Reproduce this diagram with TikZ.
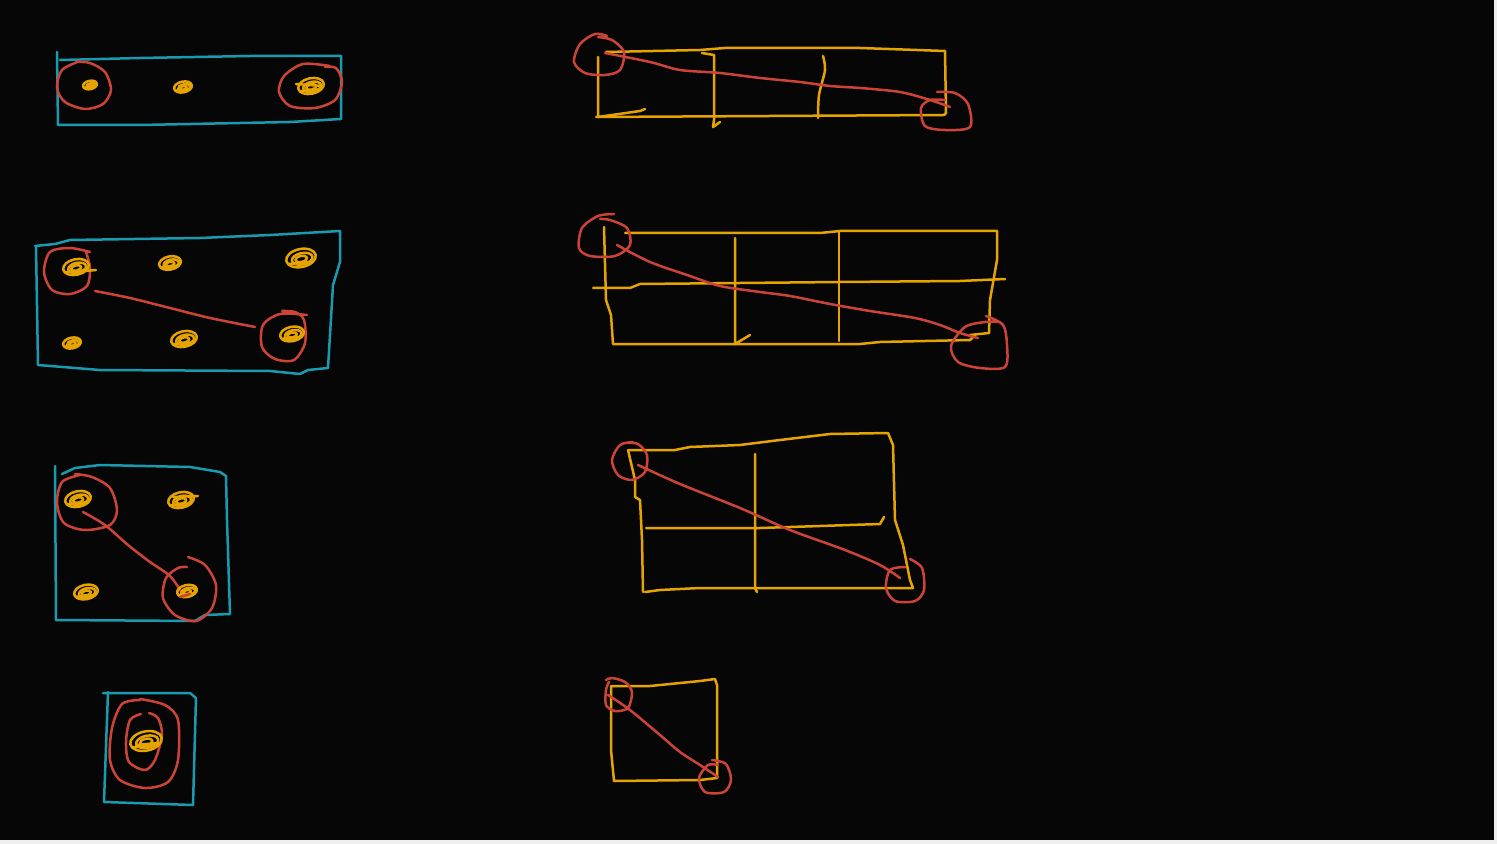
\documentclass[tikz,border=0pt]{standalone}
\usetikzlibrary{calc}
\definecolor{cyanc}{HTML}{1A9AAE}
\definecolor{yel}{HTML}{E6A400}
\definecolor{redc}{HTML}{CC4438}
\definecolor{bgc}{HTML}{060606}
\definecolor{edgec}{HTML}{EFEFEF}
\tikzset{
  cy/.style={draw=cyanc, line width=1.25pt, line cap=round, line join=round},
  yl/.style={draw=yel, line width=1.25pt, line cap=round, line join=round},
  rd/.style={draw=redc, line width=1.25pt, line cap=round, line join=round},
}
\newcommand\scrib[3]{%
  \draw[yl, rotate around={12:(#1,#2)}] (#1,#2) ellipse ({#3} and {#3*0.6});
  \draw[yl, rotate around={12:(#1,#2)}] (#1+1,#2+1) ellipse ({#3*0.7} and {#3*0.38});
  \draw[yl, rotate around={12:(#1,#2)}] (#1,#2+1) ellipse ({#3*0.4} and {#3*0.2});
  \draw[yl] (#1-#3*0.8,#2+#3*0.4) -- (#1+#3*0.7,#2+#3*0.25);
}
\begin{document}
\begin{tikzpicture}[x=0.5pt,y=-0.5pt]
\useasboundingbox (0,0) rectangle (1497,844);
\fill[edgec] (0,0) rectangle (1497,844);
\fill[bgc] (0,0) rectangle (1494,840);

% ---------- Panel L1 ----------
\draw[cy] (57,52) -- (58,125) -- (140,125) -- (290,122) -- (341,119) -- (341,56) -- (250,56) -- (140,58) -- (60,60);
\draw[rd] plot[smooth] coordinates {(80,61) (62,70) (57,88) (65,102) (85,109) (103,104) (111,90) (105,72) (90,63) (78,62)};
\draw[rd] plot[smooth] coordinates {(330,66) (303,64) (284,76) (279,92) (290,106) (315,108) (335,100) (342,82) (336,68) (325,67)};
\scrib{90}{85}{7}
\scrib{183}{87}{9}
\scrib{311}{86}{13}
\draw[yl] (296,84) -- (322,86);

% ---------- Panel L2 ----------
\draw[cy] (35,246) -- (55,244) -- (70,240) -- (200,238) -- (270,235) -- (340,231) -- (340,262) -- (333,285) -- (328,368) -- (308,370) -- (300,374) -- (270,371) -- (100,370) -- (38,365) -- (36,246);
\draw[rd] plot[smooth] coordinates {(90,252) (70,248) (50,252) (44,272) (52,290) (70,294) (87,286) (90,268) (86,252)};
\draw[rd] plot[smooth] coordinates {(95,291) (130,298) (170,308) (210,318) (255,327)};
\draw[rd] plot[smooth] coordinates {(282,311) (295,312) (304,320) (305,343) (294,360) (275,359) (262,347) (263,325) (280,314) (307,315)};
\scrib{76}{267}{13}
\draw[yl] (72,272) -- (96,270);
\scrib{170}{263}{11}
\scrib{301}{258}{15}
\scrib{72}{343}{9}
\scrib{184}{339}{13}
\scrib{292}{334}{12}

% ---------- Panel L3 ----------
\draw[cy] (55,466) -- (56,620) -- (195,621) -- (205,615) -- (230,614) -- (227,520) -- (226,476) -- (220,472) -- (190,467) -- (100,465) -- (75,468) -- (62,474);
\draw[rd] plot[smooth] coordinates {(80,475) (62,482) (57,503) (64,523) (85,530) (110,525) (117,510) (110,488) (92,477) (75,474)};
\draw[rd] plot[smooth] coordinates {(83,512) (105,525) (128,545) (150,562) (170,576) (182,593)};
\draw[rd] plot[smooth] coordinates {(188,557) (205,565) (216,585) (212,608) (196,621) (175,615) (163,598) (166,578) (178,568) (187,567)};
\scrib{78}{499}{13}
\scrib{181}{500}{13}
\draw[yl] (173,497) -- (198,496);
\scrib{86}{592}{12}
\scrib{187}{591}{10}
\draw[rd] (180,597) -- (190,594);

% ---------- Panel L4 ----------
\draw[cy] (103,693) -- (190,693) -- (196,698) -- (193,805) -- (104,802) -- (108,692);
\draw[rd] plot[smooth] coordinates {(140,700) (122,704) (112,728) (110,760) (120,780) (145,788) (168,782) (178,760) (178,720) (165,705) (140,699)};
\draw[rd] plot[smooth] coordinates {(141,714) (130,720) (126,742) (129,762) (145,770) (155,760) (162,735) (158,718) (149,713)};
\scrib{146}{741}{16}
\draw[yl] (136,745) -- (158,743);

% ---------- Panel R1 ----------
\draw[yl] (606,52) -- (700,50) -- (725,48) -- (860,48) -- (945,51) -- (946,113) -- (944,115) -- (596,117);
\draw[yl] (598,57) -- (598,117) -- (640,111) -- (645,109);
\draw[yl] (702,53) -- (714,55) -- (714,120) -- (713,127) -- (720,122);
\draw[yl] plot[smooth] coordinates {(823,56) (825,70) (819,95) (818,118)};
\draw[rd] plot[smooth] coordinates {(607,36) (595,34) (580,44) (574,62) (585,73) (605,75) (620,70) (624,52) (612,40) (598,37)};
\draw[rd] plot[smooth] coordinates {(605,53) (650,62) (680,70) (720,73) (760,78) (800,82) (830,86) (860,88) (900,92) (930,100) (950,107)};
\draw[rd] plot[smooth] coordinates {(937,92) (955,93) (968,104) (970,127) (945,130) (925,126) (921,108) (930,100) (945,100)};

% ---------- Panel R2 ----------
\draw[yl] (625,233) -- (820,233) -- (840,231) -- (997,231) -- (997,260) -- (990,300) -- (989,333) -- (970,335);
\draw[yl] (604,227) -- (606,300) -- (611,315) -- (613,344) -- (860,344) -- (880,342) -- (970,340) -- (975,335);
\draw[yl] (593,288) -- (630,288) -- (640,284) -- (840,282) -- (960,281) -- (1005,279);
\draw[yl] (735,238) -- (735,344) -- (750,335);
\draw[yl] (839,232) -- (839,341);
\draw[rd] plot[smooth] coordinates {(614,214) (598,216) (582,228) (579,248) (590,256) (615,256) (630,245) (627,228) (610,220) (600,219)};
\draw[rd] plot[smooth] coordinates {(617,245) (650,262) (690,276) (720,286) (760,292) (790,296) (830,304) (870,311) (915,318) (940,325) (960,333) (978,338)};
\draw[rd] plot[smooth] coordinates {(986,316) (1003,325) (1007,345) (1005,367) (980,368) (958,362) (951,346) (965,327) (985,322) (1000,322)};

% ---------- Panel R3 ----------
\draw[yl] (629,450) -- (675,450) -- (690,447) -- (740,445) -- (780,440) -- (830,434) -- (888,433) -- (893,445) -- (895,520) -- (903,545) -- (910,580) -- (913,588) -- (700,588) -- (660,590) -- (645,592);
\draw[yl] (628,450) -- (635,480) -- (635,497) -- (640,500) -- (642,540) -- (643,592);
\draw[yl] (646,528) -- (760,528) -- (820,526) -- (880,524) -- (884,517);
\draw[yl] (755,454) -- (755,588) -- (757,592);
\draw[rd] plot[smooth] coordinates {(633,442) (620,445) (612,460) (618,475) (632,480) (645,472) (647,455) (638,444) (627,443)};
\draw[rd] plot[smooth] coordinates {(638,465) (680,484) (740,508) (790,530) (845,550) (880,565) (900,578)};
\draw[rd] plot[smooth] coordinates {(910,559) (922,568) (924,590) (915,601) (895,601) (886,588) (890,570) (905,567)};

% ---------- Panel R4 ----------
\draw[yl] (612,686) -- (650,686) -- (700,681) -- (715,679) -- (717,685) -- (717,778) -- (700,780) -- (614,781) -- (611,750) -- (611,686);
\draw[rd] plot[smooth] coordinates {(609,682) (606,690) (606,705) (615,711) (628,708) (632,692) (625,682) (612,678) (606,680)};
\draw[rd] plot[smooth] coordinates {(608,695) (630,710) (660,735) (680,752) (700,765) (718,777)};
\draw[rd] plot[smooth] coordinates {(712,760) (726,764) (731,780) (724,792) (705,792) (699,778) (708,765) (718,765)};
\end{tikzpicture}
\end{document}
